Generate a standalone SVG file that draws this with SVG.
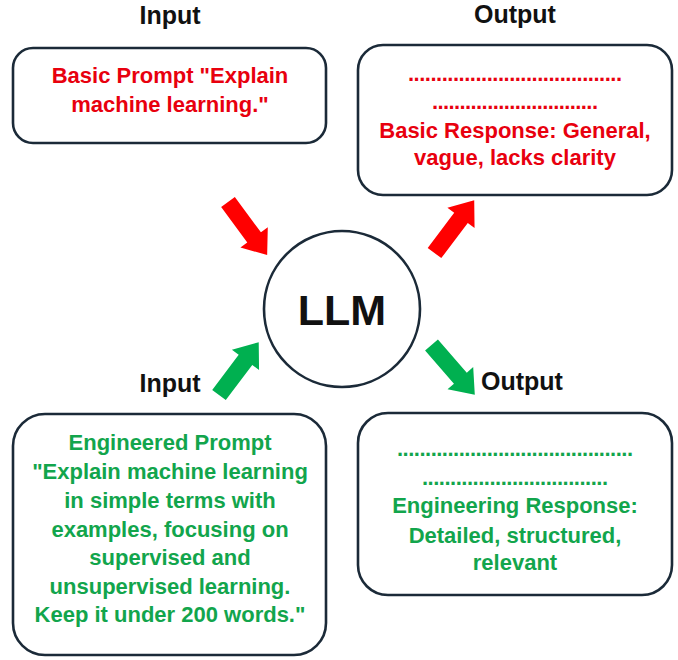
<svg xmlns="http://www.w3.org/2000/svg" width="678" height="660" viewBox="0 0 678 660">
<style>
.box{fill:#fff;stroke:#1b2a38;stroke-width:2.6}
.lbl{font-family:"Liberation Sans",Arial,sans-serif;font-weight:bold;font-size:25px;fill:#111;text-anchor:middle}
.t{font-family:"Liberation Sans",Arial,sans-serif;font-weight:bold;font-size:22px;text-anchor:middle}
.red{fill:#e8000e}
.grn{fill:#12a54c}
</style>
<defs>
<path id="arr" d="M0,-8.5 L44,-8.5 L44,-17 L66,0 L44,17 L44,8.5 L0,8.5 Z"/>
</defs>
<rect width="678" height="660" fill="#fff"/>
<text class="lbl" x="170" y="24">Input</text>
<text class="lbl" x="515" y="23">Output</text>
<text class="lbl" x="170" y="392">Input</text>
<text class="lbl" x="522" y="390">Output</text>
<g id="connectors">
<use href="#arr" fill="#ff0000" transform="translate(228,202) rotate(53.6)"/>
<use href="#arr" fill="#ff0000" transform="translate(434.5,253) rotate(-53)"/>
<use href="#arr" fill="#00b050" transform="translate(219,395) rotate(-53)"/>
<use href="#arr" fill="#00b050" transform="translate(431.5,345) rotate(49)"/>
</g>
<g id="llm">
<circle class="box" cx="342" cy="309" r="78"/>
<text x="342" y="325" font-family="Liberation Sans,Arial,sans-serif" font-weight="bold" font-size="43" text-anchor="middle" fill="#111">LLM</text>
</g>
<g id="basic-prompt">
<rect class="box" x="13" y="48" width="313" height="95" rx="20"/>
<text class="t red" x="170" y="83">Basic Prompt "Explain</text>
<text class="t red" x="170" y="112">machine learning."</text>
</g>
<g id="basic-response">
<rect class="box" x="358" y="45" width="314" height="150" rx="25"/>
<text class="t red" x="515" y="81" textLength="214" lengthAdjust="spacing">......................................</text>
<text class="t red" x="515" y="109" textLength="166" lengthAdjust="spacing">..............................</text>
<text class="t red" x="515" y="138">Basic Response: General,</text>
<text class="t red" x="515" y="165">vague, lacks clarity</text>
</g>
<g id="engineered-prompt">
<rect class="box" x="13" y="414" width="313" height="241" rx="32"/>
<text class="t grn" x="170" y="450">Engineered Prompt</text>
<text class="t grn" x="170" y="479">"Explain machine learning</text>
<text class="t grn" x="170" y="508">in simple terms with</text>
<text class="t grn" x="170" y="537">examples, focusing on</text>
<text class="t grn" x="170" y="565">supervised and</text>
<text class="t grn" x="170" y="594">unsupervised learning.</text>
<text class="t grn" x="170" y="622">Keep it under 200 words."</text>
</g>
<g id="engineering-response">
<rect class="box" x="358" y="413" width="314" height="182" rx="30"/>
<text class="t grn" x="515" y="456" textLength="236" lengthAdjust="spacing">..........................................</text>
<text class="t grn" x="515" y="485" textLength="186" lengthAdjust="spacing">.................................</text>
<text class="t grn" x="515" y="513">Engineering Response:</text>
<text class="t grn" x="515" y="543">Detailed, structured,</text>
<text class="t grn" x="515" y="570">relevant</text>
</g>
</svg>
